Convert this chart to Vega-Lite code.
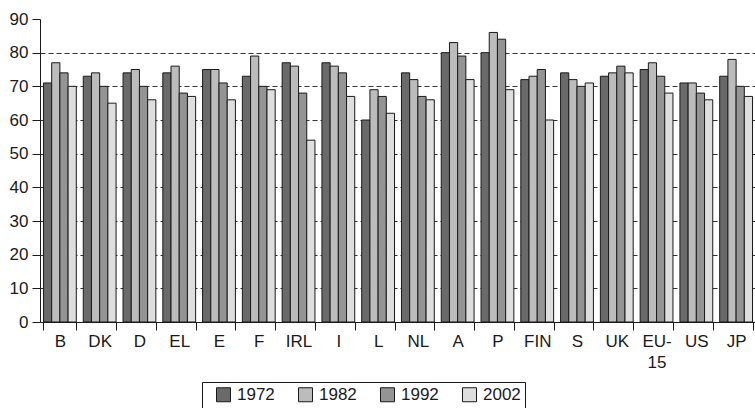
{
  "$schema": "https://vega.github.io/schema/vega-lite/v6.json",
  "width": 716,
  "height": 303,
  "autosize": {"type": "none"},
  "padding": {"left": 40, "top": 19, "right": 0, "bottom": 86},
  "background": "white",
  "config": {
    "view": {"stroke": null},
    "font": "Liberation Sans",
    "axis": {"domainColor": "#1a1a1a", "tickColor": "#1a1a1a", "labelColor": "#1a1a1a", "labelFontSize": 17, "labelFont": "Liberation Sans", "tickSize": 8}
  },
  "data": {"values": [
    {"country": "B", "year": "1972", "value": 71}, {"country": "B", "year": "1982", "value": 77}, {"country": "B", "year": "1992", "value": 74}, {"country": "B", "year": "2002", "value": 70},
    {"country": "DK", "year": "1972", "value": 73}, {"country": "DK", "year": "1982", "value": 74}, {"country": "DK", "year": "1992", "value": 70}, {"country": "DK", "year": "2002", "value": 65},
    {"country": "D", "year": "1972", "value": 74}, {"country": "D", "year": "1982", "value": 75}, {"country": "D", "year": "1992", "value": 70}, {"country": "D", "year": "2002", "value": 66},
    {"country": "EL", "year": "1972", "value": 74}, {"country": "EL", "year": "1982", "value": 76}, {"country": "EL", "year": "1992", "value": 68}, {"country": "EL", "year": "2002", "value": 67},
    {"country": "E", "year": "1972", "value": 75}, {"country": "E", "year": "1982", "value": 75}, {"country": "E", "year": "1992", "value": 71}, {"country": "E", "year": "2002", "value": 66},
    {"country": "F", "year": "1972", "value": 73}, {"country": "F", "year": "1982", "value": 79}, {"country": "F", "year": "1992", "value": 70}, {"country": "F", "year": "2002", "value": 69},
    {"country": "IRL", "year": "1972", "value": 77}, {"country": "IRL", "year": "1982", "value": 76}, {"country": "IRL", "year": "1992", "value": 68}, {"country": "IRL", "year": "2002", "value": 54},
    {"country": "I", "year": "1972", "value": 77}, {"country": "I", "year": "1982", "value": 76}, {"country": "I", "year": "1992", "value": 74}, {"country": "I", "year": "2002", "value": 67},
    {"country": "L", "year": "1972", "value": 60}, {"country": "L", "year": "1982", "value": 69}, {"country": "L", "year": "1992", "value": 67}, {"country": "L", "year": "2002", "value": 62},
    {"country": "NL", "year": "1972", "value": 74}, {"country": "NL", "year": "1982", "value": 72}, {"country": "NL", "year": "1992", "value": 67}, {"country": "NL", "year": "2002", "value": 66},
    {"country": "A", "year": "1972", "value": 80}, {"country": "A", "year": "1982", "value": 83}, {"country": "A", "year": "1992", "value": 79}, {"country": "A", "year": "2002", "value": 72},
    {"country": "P", "year": "1972", "value": 80}, {"country": "P", "year": "1982", "value": 86}, {"country": "P", "year": "1992", "value": 84}, {"country": "P", "year": "2002", "value": 69},
    {"country": "FIN", "year": "1972", "value": 72}, {"country": "FIN", "year": "1982", "value": 73}, {"country": "FIN", "year": "1992", "value": 75}, {"country": "FIN", "year": "2002", "value": 60},
    {"country": "S", "year": "1972", "value": 74}, {"country": "S", "year": "1982", "value": 72}, {"country": "S", "year": "1992", "value": 70}, {"country": "S", "year": "2002", "value": 71},
    {"country": "UK", "year": "1972", "value": 73}, {"country": "UK", "year": "1982", "value": 74}, {"country": "UK", "year": "1992", "value": 76}, {"country": "UK", "year": "2002", "value": 74},
    {"country": "EU-15", "year": "1972", "value": 75}, {"country": "EU-15", "year": "1982", "value": 77}, {"country": "EU-15", "year": "1992", "value": 73}, {"country": "EU-15", "year": "2002", "value": 68},
    {"country": "US", "year": "1972", "value": 71}, {"country": "US", "year": "1982", "value": 71}, {"country": "US", "year": "1992", "value": 68}, {"country": "US", "year": "2002", "value": 66},
    {"country": "JP", "year": "1972", "value": 73}, {"country": "JP", "year": "1982", "value": 78}, {"country": "JP", "year": "1992", "value": 70}, {"country": "JP", "year": "2002", "value": 67}
  ]},
  "mark": {"type": "bar", "stroke": "#1a1a1a", "strokeWidth": 1},
  "encoding": {
    "x": {
      "field": "country", "type": "nominal",
      "sort": ["B", "DK", "D", "EL", "E", "F", "IRL", "I", "L", "NL", "A", "P", "FIN", "S", "UK", "EU-15", "US", "JP"],
      "scale": {"paddingInner": 0.175, "paddingOuter": 0.0875},
      "axis": {
        "title": null, "labelAngle": 0, "tickBand": "extent", "labelPadding": 3,
        "labelLineHeight": 21, "labelBaseline": "top",
        "labelExpr": "datum.value == 'EU-15' ? ['EU-', '15'] : datum.value"
      }
    },
    "xOffset": {"field": "year", "type": "nominal", "sort": ["1972", "1982", "1992", "2002"], "scale": {"paddingInner": 0, "paddingOuter": 0}},
    "y": {
      "field": "value", "type": "quantitative",
      "scale": {"domain": [0, 90], "nice": false},
      "axis": {
        "title": null, "values": [0, 10, 20, 30, 40, 50, 60, 70, 80, 90], "labelPadding": 4,
        "grid": true, "gridDash": [5, 3], "gridColor": "#333333",
        "gridOpacity": {"condition": {"test": "datum.value >= 90 || datum.value <= 0", "value": 0}, "value": 1}
      }
    },
    "color": {
      "field": "year", "type": "nominal",
      "scale": {"domain": ["1972", "1982", "1992", "2002"], "range": ["#6a6a6a", "#bcbcbc", "#949494", "#dedede"]},
      "legend": {
        "title": null, "orient": "none", "legendX": 162, "legendY": 363, "direction": "horizontal", "columns": 4,
        "strokeColor": "#1a1a1a", "padding": 4, "symbolType": "square", "symbolSize": 196,
        "symbolStrokeColor": "#1a1a1a", "symbolStrokeWidth": 1, "symbolOffset": 9,
        "labelFontSize": 17, "labelColor": "#1a1a1a", "labelOffset": 5, "columnPadding": 13
      }
    }
  }
}
